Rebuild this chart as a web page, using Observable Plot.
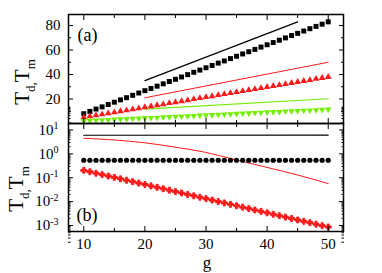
<!DOCTYPE html>
<html><head><meta charset="utf-8">
<script src="https://cdn.jsdelivr.net/npm/d3@7"></script>
<script src="https://cdn.jsdelivr.net/npm/@observablehq/plot@0.6"></script>
<style>
html,body{margin:0;padding:0;background:#fff;}
#chart{position:relative;width:382px;height:273px;}
#chart svg{display:block;}
</style></head><body><div id="chart"></div>
<script>
// ---- data ----
const gVals = [10,11,12,13,14,15,16,17,18,19,20,21,22,23,24,25,26,27,28,29,30,31,32,33,34,35,36,37,38,39,40,41,42,43,44,45,46,47,48,49,50];
// panel (a)
const squaresA = [8.0,9.9,11.8,13.6,15.5,17.4,19.3,21.1,23.0,24.9,26.8,28.6,30.5,32.4,34.3,36.1,38.0,39.9,41.8,43.6,45.5,47.4,49.3,51.1,53.0,54.9,56.8,58.6,60.5,62.4,64.3,66.1,68.0,69.9,71.8,73.6,75.5,77.4,79.3,81.1,83.0];
const trianglesA = [5.0,5.8,6.7,7.5,8.3,9.1,10.0,10.8,11.6,12.4,13.3,14.1,14.9,15.7,16.6,17.4,18.2,19.0,19.9,20.7,21.5,22.3,23.2,24.0,24.8,25.6,26.5,27.3,28.1,28.9,29.8,30.6,31.4,32.2,33.1,33.9,34.7,35.5,36.4,37.2,38.0];
const invTrianglesA = [2.1,2.3,2.6,2.8,3.0,3.3,3.5,3.7,4.0,4.2,4.5,4.7,4.9,5.2,5.4,5.6,5.9,6.1,6.3,6.6,6.8,7.0,7.3,7.5,7.7,8.0,8.2,8.4,8.7,8.9,9.2,9.4,9.6,9.9,10.1,10.3,10.6,10.8,11.0,11.3,11.5];
const blackLineAg = [20,45], blackLineAv = [35,83];
const redLineAg = [20,50], redLineAv = [21,50];
const greenLineAg = [20,50], greenLineAv = [11.7,20.2];
// panel (b)
const dotsB = [0.54,0.54,0.54,0.54,0.54,0.54,0.54,0.54,0.54,0.54,0.54,0.54,0.54,0.54,0.54,0.54,0.54,0.54,0.54,0.54,0.54,0.54,0.54,0.54,0.54,0.54,0.54,0.54,0.54,0.54,0.54,0.54,0.54,0.54,0.54,0.54,0.54,0.54,0.54,0.54,0.54];
const crossesB = [0.204,0.178,0.155,0.135,0.118,0.103,0.090,0.0785,0.0685,0.0597,0.0521,0.0455,0.0397,0.0346,0.0302,0.0263,0.0230,0.0200,0.0175,0.0152,0.0133,0.0116,0.0101,0.00883,0.00771,0.00672,0.00586,0.00512,0.00447,0.00389,0.00340,0.00296,0.00258,0.00225,0.00197,0.00171,0.00150,0.00131,0.00114,0.00099,0.00087];
const blackLineBg = [10,50], blackLineBv = [6.0,6.1];
const redLineBg = [10,15,20,25,30,35,40,45,50];
const redLineBv = [4.5,3.8,2.9,1.9,1.15,0.55,0.27,0.13,0.057];
// ticks
const xMajor = [10,20,30,40,50];
const xMinor = [15,25,35,45];
const yTopMajor = [20,40,60,80];
const yTopMinor = [10,30,50,70];
const yBotMajor = [1e-3,1e-2,1e-1,1e0,1e1];
const mantissas = [2,3,4,5,6,7,8,9];

// ---- build ----
const rows = (xs, ys) => xs.map((x, i) => ({g: x, v: ys[i]}));
const W = 382, ML = 68, MR = 39;
const font = "'Liberation Serif', 'Times New Roman', serif";
const RED = "#ff1a1a", GREEN = "#72f000";
const blank = () => "";
const expFmt = d => "E" + String(Math.round(Math.log10(d)));

function tickAxes(axisFn, anchor, major, minor, big, small) {
  return [
    axisFn({anchor, ticks: major, tickSize: -big, tickFormat: blank, label: null, strokeWidth: 1}),
    axisFn({anchor, ticks: minor, tickSize: -small, tickFormat: blank, label: null, strokeWidth: 1})
  ];
}

const topPlot = Plot.plot({
  width: W, height: 123,
  marginLeft: ML, marginRight: MR, marginTop: 14, marginBottom: 0,
  x: {domain: [7.5, 52.5]},
  y: {domain: [0, 89]},
  style: {fontFamily: font, fontSize: "15px", color: "#000", background: "#fff", overflow: "visible"},
  marks: [
    Plot.line(rows(blackLineAg, blackLineAv), {x: "g", y: "v", stroke: "#000", strokeWidth: 1.2}),
    Plot.line(rows(redLineAg, redLineAv), {x: "g", y: "v", stroke: RED, strokeWidth: 1}),
    Plot.line(rows(greenLineAg, greenLineAv), {x: "g", y: "v", stroke: GREEN, strokeWidth: 1.2}),
    Plot.dot(rows(gVals, squaresA), {x: "g", y: "v", symbol: "square", fill: "#000", r: 2.8}),
    Plot.dot(rows(gVals, trianglesA), {x: "g", y: "v", symbol: "triangle", fill: RED, r: 2.5}),
    Plot.dot(rows(gVals, invTrianglesA), {x: "g", y: "v", symbol: "triangle", fill: GREEN, r: 2.4, rotate: 180}),
    Plot.axisY({anchor: "left", ticks: yTopMajor, tickSize: 0, tickPadding: 8, tickFormat: d => String(d), label: null, fontSize: 15}),
    ...tickAxes(Plot.axisY, "left", yTopMajor, yTopMinor, 5, 3),
    ...tickAxes(Plot.axisY, "right", yTopMajor, yTopMinor, 5, 3),
    ...tickAxes(Plot.axisX, "top", xMajor, xMinor, 5, 3),
    ...tickAxes(Plot.axisX, "bottom", xMajor, xMinor, 5, 3),
    Plot.frame({stroke: "#000", strokeWidth: 1.5}),
    Plot.text(["(a)"], {frameAnchor: "top-left", dx: 9, dy: 21, textAnchor: "start", lineAnchor: "middle", fontSize: 18, fill: "#000"})
  ]
});

const minorLog = [];
for (const e of [-4, -3, -2, -1, 0, 1]) for (const m of mantissas) minorLog.push(m * Math.pow(10, e));

const botPlot = Plot.plot({
  width: W, height: 150,
  marginLeft: ML, marginRight: MR, marginTop: 0, marginBottom: 42,
  x: {domain: [7.5, 52.5]},
  y: {type: "log", domain: [Math.pow(10, -3.25), Math.pow(10, 1.27)]},
  style: {fontFamily: font, fontSize: "15px", color: "#000", background: "#fff", overflow: "visible"},
  marks: [
    Plot.line(rows(blackLineBg, blackLineBv), {x: "g", y: "v", stroke: "#000", strokeWidth: 1.2}),
    Plot.line(rows(redLineBg, redLineBv), {x: "g", y: "v", stroke: RED, strokeWidth: 1, curve: "monotone-x"}),
    Plot.dot(rows(gVals, dotsB), {x: "g", y: "v", symbol: "circle", fill: "#000", r: 2.6}),
    Plot.dot(rows(gVals, crossesB), {x: "g", y: "v", symbol: "cross", fill: RED, stroke: RED, strokeWidth: 1, r: 2.5}),
    Plot.axisY({anchor: "left", ticks: yBotMajor, tickSize: 0, tickPadding: 10, tickFormat: expFmt, label: null, fontSize: 15}),
    ...tickAxes(Plot.axisY, "left", yBotMajor, minorLog, 5, 2.5),
    ...tickAxes(Plot.axisY, "right", yBotMajor, minorLog, 5, 2.5),
    ...tickAxes(Plot.axisX, "top", xMajor, xMinor, 5, 3),
    ...tickAxes(Plot.axisX, "bottom", xMajor, xMinor, 5, 3),
    Plot.axisX({anchor: "bottom", ticks: xMajor, tickSize: 0, tickPadding: 7, tickFormat: d => String(d), label: null, fontSize: 15}),
    Plot.frame({stroke: "#000", strokeWidth: 1.5}),
    Plot.text(["(b)"], {frameAnchor: "bottom-left", dx: 8, dy: -16, textAnchor: "start", lineAnchor: "middle", fontSize: 18, fill: "#000"})
  ]
});

const chart = document.getElementById("chart");
chart.appendChild(topPlot);
chart.appendChild(botPlot);

// remove empty tick-label texts from tick-only axes
d3.selectAll("#chart text").filter(function() { return this.textContent === ""; }).remove();

// superscript exponents on log axis labels
d3.select(botPlot).selectAll("text").each(function() {
  const s = this.textContent;
  if (!s || s[0] !== "E") return;
  const t = d3.select(this);
  t.text("10");
  t.append("tspan").attr("dy", "-0.55em").attr("font-size", "10px").text(s.slice(1));
});

function yLabel(svg, cx, cy) {
  const t = d3.select(svg).append("text")
    .attr("transform", `translate(${cx},${cy}) rotate(-90)`)
    .attr("text-anchor", "middle")
    .attr("font-family", font)
    .attr("font-size", 21)
    .attr("fill", "#000");
  t.append("tspan").text("T");
  t.append("tspan").attr("dy", 6).attr("font-size", 13).text("d");
  t.append("tspan").attr("font-size", 13).text(",");
  t.append("tspan").attr("dy", -6).text("T");
  t.append("tspan").attr("dy", 6).attr("font-size", 13).text("m");
}
yLabel(topPlot, 29, 82);
yLabel(botPlot, 23, 66);

d3.select(botPlot).append("text")
  .attr("x", 207).attr("y", 145)
  .attr("text-anchor", "middle")
  .attr("font-family", font).attr("font-size", 17).attr("fill", "#000")
  .text("g");
</script>
</body></html>
